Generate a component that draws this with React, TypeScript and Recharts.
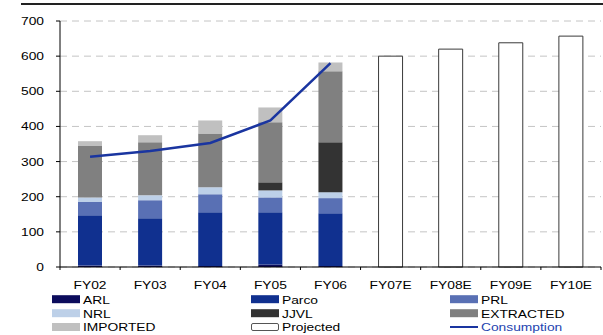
import React from 'react';
import { ComposedChart, Bar, Line, XAxis, YAxis, CartesianGrid } from 'recharts';

// Fiscal years: actuals and projections
const categories = ['FY02', 'FY03', 'FY04', 'FY05', 'FY06', 'FY07E', 'FY08E', 'FY09E', 'FY10E'];

// Supply by source (stacked segments)
const arl = [4, 4, 3, 7, 3, null, null, null, null];
const parco = [143, 135, 153, 149, 150, null, null, null, null];
const prl = [38, 51, 51, 42, 43, null, null, null, null];
const nrl = [13, 14, 20, 20, 17, null, null, null, null];
const jjvl = [0, 0, 0, 23, 142, null, null, null, null];
const extracted = [148, 151, 153, 171, 202, null, null, null, null];
const imported = [12, 20, 37, 42, 25, null, null, null, null];
const projected = [null, null, null, null, null, 600, 620, 638, 657];

// Consumption line
const consumption = [314, 330, 353, 417, 580, null, null, null, null];

const yTicks = [0, 100, 200, 300, 400, 500, 600, 700];

const data = categories.map((cat, i) => ({
  cat,
  ARL: arl[i],
  Parco: parco[i],
  PRL: prl[i],
  NRL: nrl[i],
  JJVL: jjvl[i],
  EXTRACTED: extracted[i],
  IMPORTED: imported[i],
  Projected: projected[i],
  Consumption: consumption[i],
}));

const FONT = '"Liberation Sans", Arial, sans-serif';
const STRETCH = 1.2;

const stackSeries = [
  { key: 'ARL', color: '#0c0c5c' },
  { key: 'Parco', color: '#10308f' },
  { key: 'PRL', color: '#5970b4' },
  { key: 'NRL', color: '#bdd0e8' },
  { key: 'JJVL', color: '#333333' },
  { key: 'EXTRACTED', color: '#808080' },
  { key: 'IMPORTED', color: '#c0c0c0' },
];

const LINE_COLOR = '#1a35a0';

const legendItems = [
  { label: 'ARL', kind: 'box', color: '#0c0c5c' },
  { label: 'Parco', kind: 'box', color: '#10308f' },
  { label: 'PRL', kind: 'box', color: '#5970b4' },
  { label: 'NRL', kind: 'box', color: '#bdd0e8' },
  { label: 'JJVL', kind: 'box', color: '#333333' },
  { label: 'EXTRACTED', kind: 'box', color: '#808080' },
  { label: 'IMPORTED', kind: 'box', color: '#c0c0c0' },
  { label: 'Projected', kind: 'outline', color: '#ffffff' },
  { label: 'Consumption', kind: 'line', color: LINE_COLOR },
];

const XTick = (props: any) => {
  const { x, y, payload, index, visibleTicksCount } = props;
  const half = payload && typeof payload.offset === 'number' && payload.offset > 0 ? payload.offset : 30;
  const isLast = index === visibleTicksCount - 1;
  return (
    <g>
      <line x1={x - half} x2={x - half} y1={y} y2={y + 3} stroke="#000" strokeWidth={1} />
      {isLast && <line x1={x + half} x2={x + half} y1={y} y2={y + 3} stroke="#000" strokeWidth={1} />}
      <text
        transform={`translate(${x},${y + 22}) scale(${STRETCH},1)`}
        textAnchor="middle"
        fontFamily={FONT}
        fontSize={11.5}
        fill="#000"
      >
        {payload.value}
      </text>
    </g>
  );
};

const YTick = (props: any) => {
  const { x, y, payload } = props;
  return (
    <text
      transform={`translate(${x},${y + 4}) scale(${STRETCH},1)`}
      textAnchor="end"
      fontFamily={FONT}
      fontSize={11.5}
      fill="#000"
    >
      {payload.value}
    </text>
  );
};

const LegendBlock = () => {
  const colX = [52, 251, 450];
  const rowBase = [303.5, 317.5, 331.3];
  return (
    <svg
      width={603}
      height={335}
      style={{ position: 'absolute', left: 0, top: 0, pointerEvents: 'none' }}
    >
      {legendItems.map((item, i) => {
        const cx = colX[i % 3];
        const by = rowBase[Math.floor(i / 3)];
        let swatch;
        if (item.kind === 'box') {
          swatch = <rect x={cx} y={by - 8.3} width={28} height={8} fill={item.color} />;
        } else if (item.kind === 'outline') {
          swatch = (
            <rect x={cx + 0.5} y={by - 7.8} width={27} height={7} rx={1.5} fill="#fff" stroke="#555" strokeWidth={1} />
          );
        } else {
          swatch = <line x1={cx} x2={cx + 28} y1={by - 4.3} y2={by - 4.3} stroke={item.color} strokeWidth={2} />;
        }
        return (
          <g key={item.label}>
            {swatch}
            <text
              transform={`translate(${cx + 31},${by}) scale(${STRETCH},1)`}
              fontFamily={FONT}
              fontSize={11.5}
              fill={item.kind === 'line' ? '#2444b0' : '#000'}
            >
              {item.label}
            </text>
          </g>
        );
      })}
    </svg>
  );
};

export default function App() {
  return (
    <div style={{ position: 'absolute', left: 0, top: 0, width: 603, height: 335, background: '#fff' }}>
      <div style={{ position: 'absolute', left: 21, top: 3, width: 582, height: 2, background: '#222' }} />
      <ComposedChart
        width={603}
        height={335}
        data={data}
        margin={{ top: 21, right: 2, bottom: 0, left: 0 }}
        barCategoryGap="30%"
      >
        <CartesianGrid vertical={false} stroke="#c4c4c4" strokeDasharray="7 5" />
        <XAxis
          dataKey="cat"
          height={68}
          interval={0}
          tickSize={0}
          tickMargin={0}
          tickLine={false}
          axisLine={{ stroke: '#000', strokeWidth: 1 }}
          tick={<XTick />}
        />
        <YAxis
          width={60}
          domain={[0, 700]}
          ticks={yTicks}
          interval={0}
          tickSize={4}
          tickMargin={12}
          axisLine={{ stroke: '#000', strokeWidth: 1 }}
          tickLine={{ stroke: '#000', strokeWidth: 1 }}
          tick={<YTick />}
        />
        {stackSeries.map((s) => (
          <Bar key={s.key} dataKey={s.key} stackId="supply" fill={s.color} barSize={24} isAnimationActive={false} />
        ))}
        <Bar
          dataKey="Projected"
          stackId="supply"
          fill="#ffffff"
          stroke="#3a3a3a"
          strokeWidth={1}
          barSize={24}
          isAnimationActive={false}
        />
        <Line
          type="linear"
          dataKey="Consumption"
          stroke={LINE_COLOR}
          strokeWidth={2.5}
          dot={false}
          activeDot={false}
          connectNulls={false}
          isAnimationActive={false}
        />
      </ComposedChart>
      <LegendBlock />
    </div>
  );
}
